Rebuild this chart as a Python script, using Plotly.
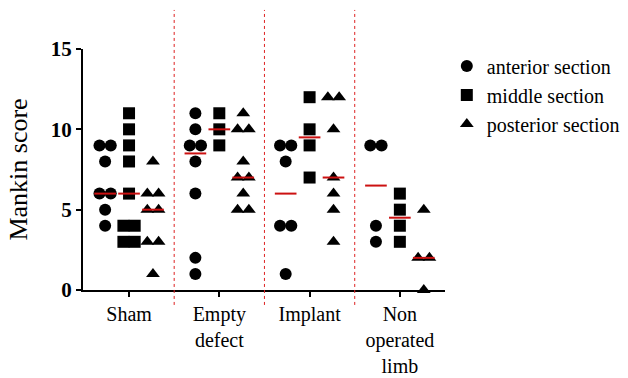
import plotly.graph_objects as go
import numpy as np

groups = ["Sham", "Empty<br>defect", "Implant", "Non<br>operated<br>limb"]
sections = ["anterior section", "middle section", "posterior section"]
anterior = [[9, 9, 8, 6, 6, 5, 4], [11, 10, 9, 9, 8, 6, 2, 1], [9, 9, 8, 4, 4, 1], [9, 9, 4, 3]]
middle = [[11, 10, 9, 8, 6, 4, 4, 3, 3], [11, 10, 9], [12, 10, 9, 7], [6, 5, 4, 3]]
posterior = [[8, 6, 6, 5, 5, 3, 3, 1], [11, 10, 10, 8, 7, 7, 6, 5, 5], [12, 12, 10, 7, 6, 5, 3], [5, 2, 2, 0]]
series = [anterior, middle, posterior]
symbols = ["circle", "square", "triangle-up"]

FONT = "Liberation Serif"
col_off = 0.265
dup_gap = 0.125
half_w = 0.12

fig = go.Figure()
med_x, med_y = [], []
for s, (name, data, sym) in enumerate(zip(sections, series, symbols)):
    xs, ys = [], []
    for g, vals in enumerate(data):
        center = g + (s - 1) * col_off
        counts = {}
        for v in vals:
            counts[v] = counts.get(v, 0) + 1
        seen = {}
        for v in vals:
            k = seen.get(v, 0)
            seen[v] = k + 1
            n = counts[v]
            xs.append(center + (k - (n - 1) / 2) * dup_gap)
            ys.append(v)
        m = float(np.median(vals))
        med_x += [center - half_w, center + half_w, None]
        med_y += [m, m, None]
    fig.add_trace(go.Scatter(
        x=xs, y=ys, mode="markers", name=name,
        marker=dict(symbol=sym, size=12, color="black", line=dict(width=0)),
        cliponaxis=False,
    ))

fig.add_trace(go.Scatter(
    x=med_x, y=med_y, mode="lines", showlegend=False,
    line=dict(color="#cc1111", width=2), hoverinfo="skip", cliponaxis=False,
))

for i in range(len(groups) - 1):
    fig.add_shape(type="line", xref="x", yref="paper", x0=i + 0.5, x1=i + 0.5,
                  y0=-0.062, y1=1.162,
                  line=dict(color="#dd2020", width=1, dash="dot"))

fig.update_layout(
    width=628, height=378,
    margin=dict(l=83, r=183, t=49, b=88, autoexpand=False),
    paper_bgcolor="white", plot_bgcolor="white",
    font=dict(family=FONT, size=20, color="black"),
    showlegend=True,
    legend=dict(x=1.005, y=1.01, xanchor="left", yanchor="top",
                font=dict(family=FONT, size=20, color="black"),
                bgcolor="rgba(0,0,0,0)", itemwidth=30),
    xaxis=dict(range=[-0.51, 3.5], tickmode="array", tickvals=list(range(len(groups))),
               ticktext=groups, ticks="outside", ticklen=5, tickwidth=1.5,
               tickcolor="black", showline=True, linewidth=2, linecolor="black",
               showgrid=False, zeroline=False, automargin=False,
               tickfont=dict(family=FONT, size=20, color="black")),
    yaxis=dict(range=[0, 15], tickmode="array", tickvals=[0, 5, 10, 15],
               ticks="outside", ticklen=5, tickwidth=1.5, tickcolor="black",
               showline=True, linewidth=2, linecolor="black",
               showgrid=False, zeroline=False, automargin=False,
               tickfont=dict(family=FONT, size=21, color="black", weight="bold"),
               title=dict(text="Mankin score", font=dict(family=FONT, size=26, color="black"),
                          standoff=16)),
)

fig.write_html("out.html", config={"displayModeBar": False},
               post_script="document.body.style.margin='0';")
